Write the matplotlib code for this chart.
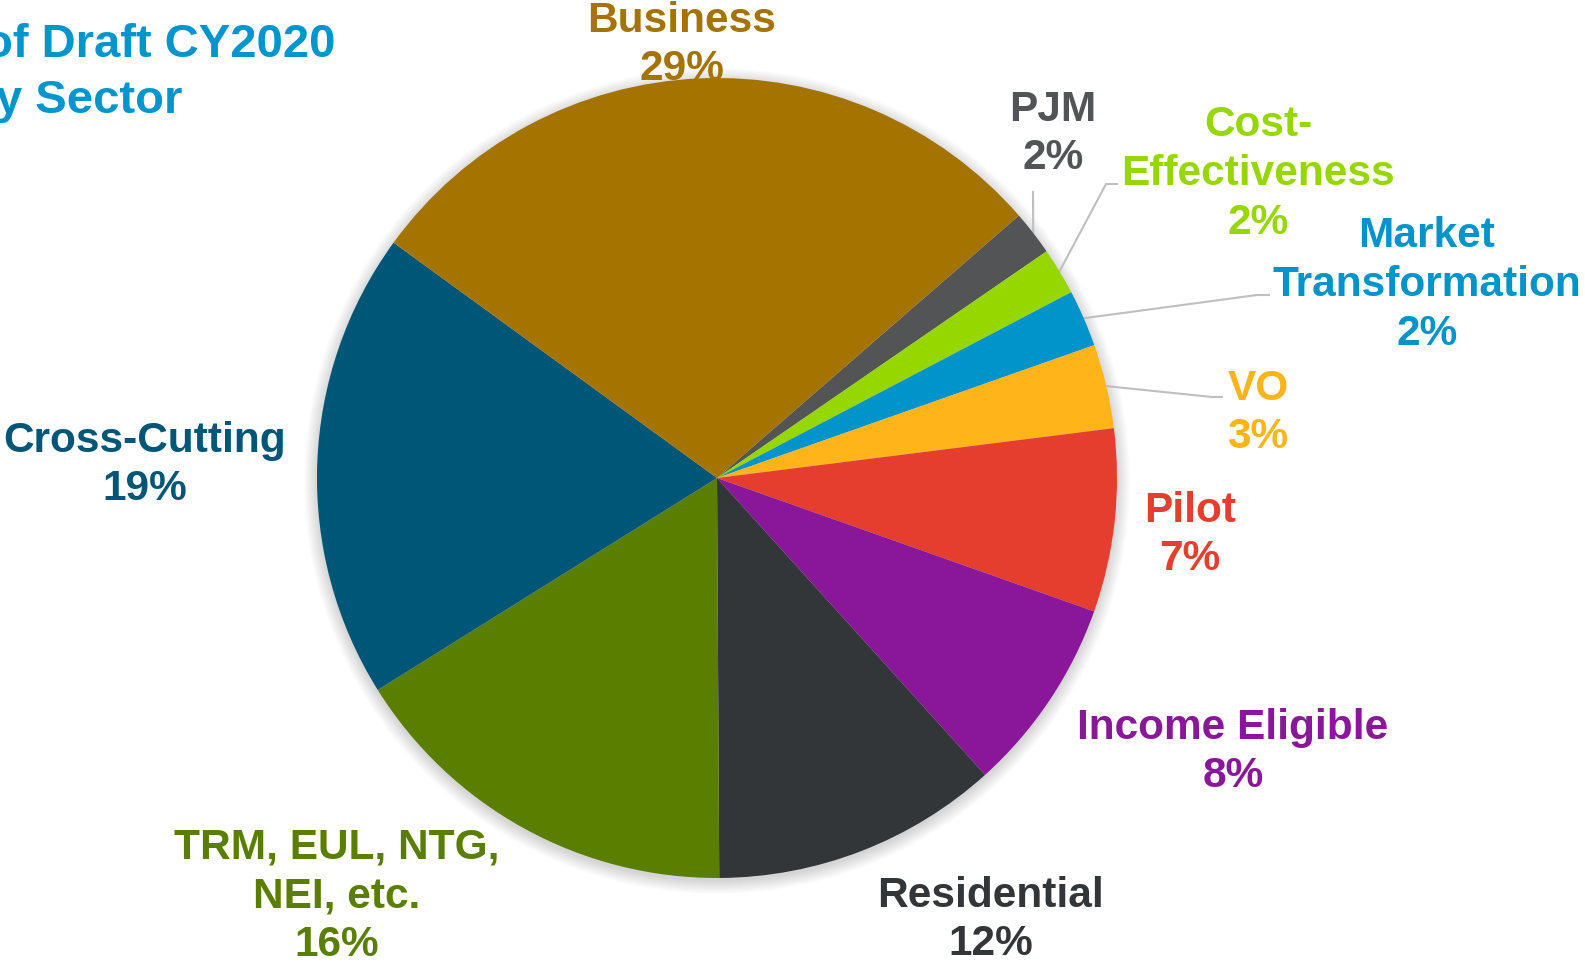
import matplotlib
matplotlib.use('Agg')
import matplotlib.pyplot as plt
from matplotlib.patches import Circle
import numpy as np

plt.rcParams['font.family'] = ['Liberation Sans', 'DejaVu Sans']

# data (percent of budget)
sectors = ['PJM', 'Cost-\nEffectiveness', 'Market\nTransformation', 'VO', 'Pilot',
           'Income Eligible', 'Residential', 'TRM, EUL, NTG,\nNEI, etc.',
           'Cross-Cutting', 'Business']
shares = [1.8, 1.9, 2.3, 3.4, 7.4, 7.9, 11.6, 16.2, 18.9, 28.6]
colors = ['#535456', '#97D700', '#0094CA', '#FFB51A', '#E53E2E',
          '#8A179A', '#333638', '#5A7F00', '#005677', '#A57400']

W, H = 1585, 966
cx, cy, R = 717, 478, 400

def Y(py):
    return H - py

# label centres in pixel coords (x, y from top)
label_pos = [(1053, 134), (1258, 174), (1427, 285), (1258, 413), (1190, 535),
             (1233, 752), (991, 920), (337, 896), (145, 465), (682, 45)]
# leader line elbows for the small slices (pixel coords), end point = slice edge
leaders = {0: [(1033, 192)],
           1: [(1117, 184), (1106, 184)],
           2: [(1269, 295), (1257, 295)],
           3: [(1222, 397), (1212, 397)]}

fig = plt.figure(figsize=(W / 100, H / 100), dpi=100)
ax = fig.add_axes([0, 0, 1, 1])

# soft shadow round the pie
for k in range(14):
    ax.add_patch(Circle((cx, Y(cy) - 3), R + k, color='black', alpha=0.012,
                        lw=0, zorder=0))

wedges, _ = ax.pie(shares, colors=colors, startangle=41, counterclock=False,
                   radius=R, center=(cx, Y(cy)),
                   wedgeprops=dict(linewidth=0, antialiased=True))
ax.set_xlim(0, W)
ax.set_ylim(0, H)
ax.axis('off')

for i, (name, val) in enumerate(zip(sectors, shares)):
    x, y = label_pos[i]
    ax.text(x, Y(y), f'{name}\n{round(val)}%', ha='center', va='center',
            fontsize=30.5, fontweight='bold', color=colors[i],
            linespacing=1.28, zorder=0.5 if i == 9 else 3)

for i, pts in leaders.items():
    w = wedges[i]
    mid = np.deg2rad((w.theta1 + w.theta2) / 2)
    ex, ey = cx + R * np.cos(mid), Y(cy) + R * np.sin(mid)
    xs = [p[0] for p in pts] + [ex]
    ys = [Y(p[1]) for p in pts] + [ey]
    ax.plot(xs, ys, color='#BFBFBF', lw=1.5, zorder=0.8)

# title (cut off at the left edge as in the original slide)
fig.text(-16 / W, 1 - 57 / H, 'of Draft CY2020', ha='left', va='baseline',
         fontsize=34, fontweight='bold', color='#0096CD')
fig.text(-33 / W, 1 - 113 / H, 'by Sector', ha='left', va='baseline',
         fontsize=34, fontweight='bold', color='#0096CD')

fig.savefig('out.png', dpi=100)
